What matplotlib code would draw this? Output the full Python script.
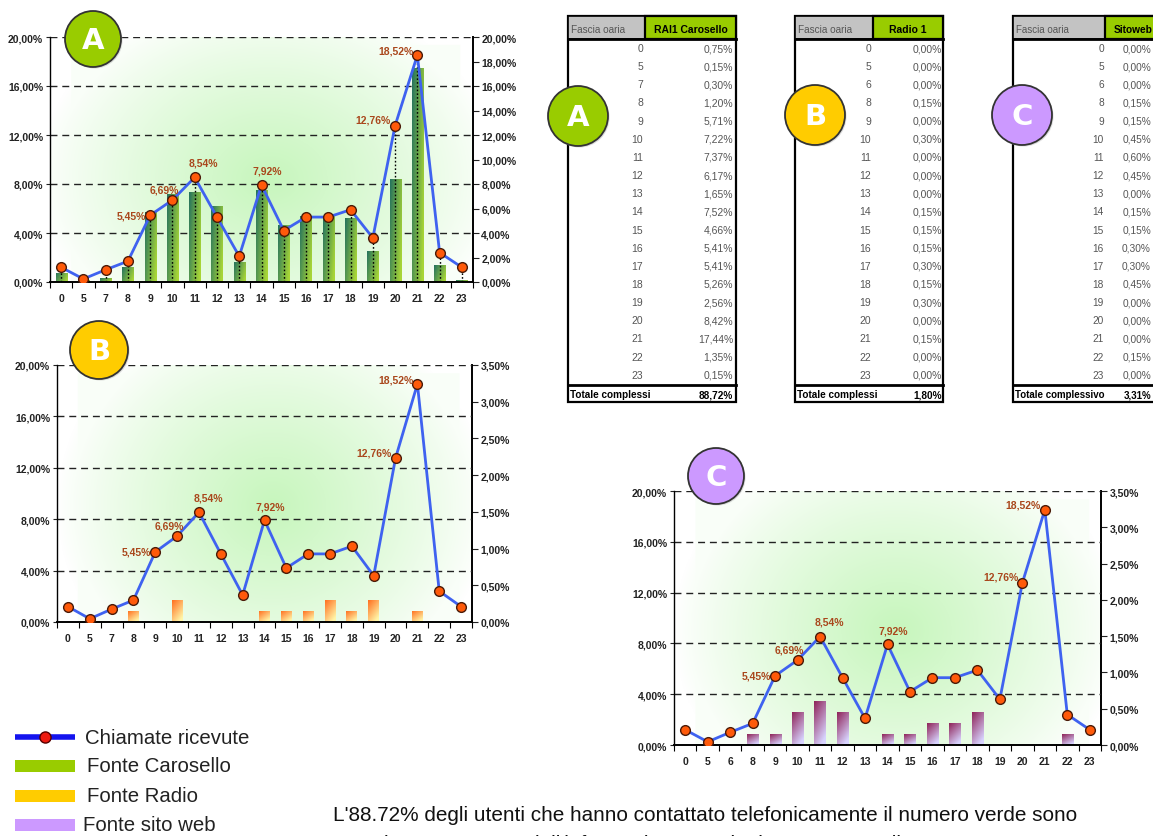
import numpy as np
import matplotlib
matplotlib.use('Agg')
import matplotlib.pyplot as plt
from matplotlib.patches import Circle, Rectangle
from matplotlib import font_manager

# ---------------- data ----------------
hours_ab = ['0', '5', '7', '8', '9', '10', '11', '12', '13', '14', '15', '16',
            '17', '18', '19', '20', '21', '22', '23']
hours_c = ['0', '5', '6', '8', '9', '10', '11', '12', '13', '14', '15', '16',
           '17', '18', '19', '20', '21', '22', '23']
calls = [1.20, 0.25, 1.00, 1.70, 5.45, 6.69, 8.54, 5.30, 2.10, 7.92, 4.20,
         5.30, 5.30, 5.90, 3.60, 12.76, 18.52, 2.40, 1.20]
carosello = [0.75, 0.15, 0.30, 1.20, 5.71, 7.22, 7.37, 6.17, 1.65, 7.52, 4.66,
             5.41, 5.41, 5.26, 2.56, 8.42, 17.44, 1.35, 0.15]
radio = [0.00, 0.00, 0.00, 0.15, 0.00, 0.30, 0.00, 0.00, 0.00, 0.15, 0.15,
         0.15, 0.30, 0.15, 0.30, 0.00, 0.15, 0.00, 0.00]
web = [0.00, 0.00, 0.00, 0.15, 0.15, 0.45, 0.60, 0.45, 0.00, 0.15, 0.15,
       0.30, 0.30, 0.45, 0.00, 0.00, 0.00, 0.15, 0.00]
labelled = [4, 5, 6, 9, 15, 16]
table_headers = ['RAI1 Carosello', 'Radio 1', 'Sitoweb']
total_labels = ['Totale complessi', 'Totale complessi', 'Totale complessivo']
totals = [88.72, 1.80, 3.31]
legend_labels = ['Chiamate ricevute', 'Fonte Carosello', 'Fonte Radio', 'Fonte sito web']
bottom_text = ("L'88.72% degli utenti che hanno contattato telefonicamente il numero verde sono",
               "venuti a conoscenza dell'informazione tramite lo spot Carosello")

# ---------------- setup ----------------
W, H = 1153, 837
fig = plt.figure(figsize=(W / 100, H / 100), dpi=100)
names = {f.name for f in font_manager.fontManager.ttflist}
NARROW = 'Liberation Sans Narrow' if 'Liberation Sans Narrow' in names else 'Liberation Sans'
plt.rcParams['font.family'] = ['Liberation Sans', 'DejaVu Sans']

BLUE = '#3f62f0'
MFC = '#ff5a0a'
MEC = '#4a1a08'
LBL = '#a9471c'


def pct(v):
    return f"{v:.2f}".replace('.', ',') + '%'


def glow(cx, cy, rx, ry):
    nx, ny = 400, 250
    X, Y = np.meshgrid(np.linspace(0, 1, nx), np.linspace(1, 0, ny))
    d = np.sqrt(((X - cx) / rx) ** 2 + ((Y - cy) / ry) ** 2)
    f = np.clip(1 - d, 0, 1) ** 0.85
    rect = ((X > 0.05) & (X < 0.97) & (Y < 0.97)).astype(float)
    f = np.maximum(f, 0.10 * rect)
    green = np.array([0.78, 0.965, 0.74])
    img = np.ones((ny, nx, 3)) * (1 - f[..., None]) + green * f[..., None]
    return img


def bar_grad(c1, c2, wu, wv):
    n = 60
    U, V = np.meshgrid(np.linspace(0, 1, n), np.linspace(0, 1, n))
    t = np.clip(wu * U + wv * V, 0, 1)
    c1 = np.array(matplotlib.colors.to_rgb(c1))
    c2 = np.array(matplotlib.colors.to_rgb(c2))
    return c1 * (1 - t[..., None]) + c2 * t[..., None]


label_offsets = {4: (-4, 0, 'right', 'center'), 5: (-8, 11, 'center', 'center'),
                 6: (9, 15, 'center', 'center'), 9: (6, 14, 'center', 'center'),
                 15: (-4, 6, 'right', 'center'), 16: (-4, 5, 'right', 'center')}


def make_chart(px, xlabels, right_max, right_step, bars, bars_on_right, grad, drop, gl):
    l, t, r, b = px
    ax = fig.add_axes([l / W, 1 - b / H, (r - l) / W, (b - t) / H])
    ax2 = ax.twinx()
    ax.set_zorder(ax2.get_zorder() + 1)
    ax.patch.set_visible(False)
    n = len(xlabels)
    x = np.arange(n)
    ax2.imshow(glow(*gl), extent=[0, 1, 0, 1], transform=ax2.transAxes,
               aspect='auto', zorder=0, interpolation='bilinear')
    target = ax2 if bars_on_right else ax
    bc = target.bar(x, bars, width=0.5, color='none', linewidth=0, zorder=2)
    for p in bc.patches:
        h = p.get_height()
        if h <= 0:
            continue
        x0, w = p.get_x(), p.get_width()
        im = target.imshow(grad, extent=[x0, x0 + w, 0, h], aspect='auto',
                           zorder=2, interpolation='bilinear')
        im.set_clip_path(p)
    ax.set_xlim(-0.5, n - 0.5)
    ax.set_ylim(0, 20)
    ax2.set_ylim(0, right_max)
    for gy in [4, 8, 12, 16, 20]:
        ax.axhline(gy, color='#222222', lw=1.0, ls=(0, (5, 3.5)), zorder=1)
    if drop:
        ax.vlines(x, 0, calls, colors='black', linestyles=(0, (1.2, 1.5)), lw=1.0, zorder=2.5)
    ax.plot(x, calls, color=BLUE, lw=2, zorder=3, marker='o', ms=7,
            mfc=MFC, mec=MEC, mew=1.0)
    for i in labelled:
        dx, dy, ha, va = label_offsets[i]
        ax.annotate(pct(calls[i]), (x[i], calls[i]), xytext=(dx * 0.72, dy * 0.72),
                    textcoords='offset points', ha=ha, va=va, fontsize=7.5,
                    fontweight='bold', color=LBL, zorder=5)
    for a in (ax, ax2):
        a.spines['top'].set_visible(False)
    ax.spines['right'].set_visible(False)
    ax2.spines['left'].set_visible(False)
    ax2.spines['bottom'].set_visible(False)
    ax.spines['left'].set_linewidth(1.0)
    ax.spines['left'].set_linestyle((0, (1.5, 1)))
    ax.spines['bottom'].set_linewidth(1.4)
    ax2.spines['right'].set_linewidth(1.4)
    yt = list(range(0, 21, 4))
    ax.set_yticks(yt)
    ax.set_yticklabels([pct(v) for v in yt], fontweight='bold')
    ax.tick_params(axis='y', direction='out', length=3, width=0.8, labelsize=7.5,
                   pad=2, colors='#222222')
    rt = np.arange(0, right_max + 1e-9, right_step)
    ax2.set_yticks(rt)
    ax2.set_yticklabels([pct(v) for v in rt], fontweight='bold')
    ax2.tick_params(axis='y', direction='out', length=4, width=0.8, labelsize=7.5,
                    pad=2, colors='#222222')
    ax.set_xticks(x)
    ax.set_xticklabels(xlabels, fontweight='bold')
    ax.tick_params(axis='x', which='major', length=0, pad=8, labelsize=7.5, colors='#222222')
    ax.set_xticks(np.arange(-0.5, n, 1.0), minor=True)
    ax.tick_params(axis='x', which='minor', length=4, width=0.8, direction='out')
    return ax


grad_a = bar_grad('#23715f', '#a8d636', 0.75, 0.35)
grad_b = bar_grad('#ff6a1a', '#fff6a8', 0.45, 0.7)
grad_c = bar_grad('#8e2358', '#d8d4ff', 0.4, 0.75)

make_chart((50, 38, 473, 283), hours_ab, 20, 2, carosello, False, grad_a, True,
           (0.52, 0.42, 0.55, 0.75))
make_chart((57, 366, 472, 623), hours_ab, 3.5, 0.5, radio, True, grad_b, False,
           (0.52, 0.45, 0.52, 0.78))
make_chart((674, 492, 1101, 746), hours_c, 3.5, 0.5, web, True, grad_c, False,
           (0.52, 0.45, 0.52, 0.78))

# ---------------- overlay ----------------
ov = fig.add_axes([0, 0, 1, 1])
ov.set_xlim(0, W)
ov.set_ylim(H, 0)
ov.axis('off')
ov.patch.set_alpha(0)
ov.set_zorder(10)


def table(x0, x1, xs, hours, vals, header, tlabel, tval, lab_r, val_r, fam, fs):
    top, hb, tl, bot = 17, 40, 386, 403
    ov.add_patch(Rectangle((x0, top), x1 - x0, bot - top, fc='white', ec='black', lw=1.6, zorder=1))
    ov.add_patch(Rectangle((x0, top), xs - x0, hb - top, fc='#c3c3c3', ec='black', lw=1.2, zorder=2))
    ov.add_patch(Rectangle((xs, top), x1 - xs, hb - top, fc='#99cc00', ec='black', lw=1.6, zorder=2))
    ov.plot([x0, x1], [hb, hb], color='black', lw=2, zorder=3)
    ov.plot([x0, x1], [tl, tl], color='black', lw=2, zorder=3)
    ov.text(x0 + 3, (top + hb) / 2 + 1, 'Fascia oaria', fontsize=fs - 0.3, color='#555555',
            va='center', ha='left', family=fam, zorder=4)
    ov.text((xs + x1) / 2, (top + hb) / 2 + 1, header, fontsize=fs, color='black',
            fontweight='bold', va='center', ha='center', family=fam, zorder=4)
    for i, (hh, v) in enumerate(zip(hours, vals)):
        y = 49 + i * 18.15
        ov.text(lab_r, y, hh, fontsize=fs, color='#555555', ha='right', va='center',
                family=fam, zorder=4)
        ov.text(val_r, y, pct(v), fontsize=fs, color='#555555', ha='right', va='center',
                family=fam, zorder=4)
    ov.text(x0 + 2, (tl + bot) / 2 + 1, tlabel, fontsize=fs - 0.3, color='black', fontweight='bold',
            ha='left', va='center', family=fam, zorder=4)
    ov.text(val_r, (tl + bot) / 2 + 1, pct(tval), fontsize=fs - 0.3, color='black',
            fontweight='bold', ha='right', va='center', family=fam, zorder=4)


table(568, 736, 645, hours_ab, carosello, table_headers[0], total_labels[0], totals[0],
      643, 733, 'Liberation Sans', 7.5)
table(795, 943, 873, hours_c, radio, table_headers[1], total_labels[1], totals[1],
      871, 942, NARROW, 7.5)
table(1013, 1162, 1105, hours_c, web, table_headers[2], total_labels[2], totals[2],
      1104, 1151, NARROW, 7.3)


def badge(cx, cy, r, color, letter):
    ov.add_patch(Circle((cx + 1.5, cy + 1.5), r, fc='#bbbbbb', ec='none', alpha=0.5, zorder=19))
    ov.add_patch(Circle((cx, cy), r, fc=color, ec='#333333', lw=1.3, zorder=20))
    ov.text(cx, cy + 1, letter, color='white', fontsize=21, fontweight='bold',
            ha='center', va='center', zorder=21, family='DejaVu Sans')


badge(93, 40, 28, '#99cc00', 'A')
badge(99, 351, 29, '#ffcc00', 'B')
badge(716, 477, 28, '#cc99ff', 'C')
badge(578, 117, 30, '#99cc00', 'A')
badge(815, 116, 30, '#ffcc00', 'B')
badge(1022, 116, 30, '#cc99ff', 'C')

# legend
ov.plot([15, 75], [738, 738], color='#1414ee', lw=4, solid_capstyle='butt', zorder=5)
ov.plot([45], [738], marker='o', ms=8, mfc='#ee1a10', mec='#550000', mew=1, zorder=6)
for yy, col in zip([767, 797, 826], ['#99cc00', '#ffcc00', '#cc99ff']):
    ov.add_patch(Rectangle((15, yy - 6), 60, 12, fc=col, ec='none', zorder=5))

renderer = fig.canvas.get_renderer()


def fit(txt, width):
    bb = txt.get_window_extent(renderer)
    txt.set_fontsize(txt.get_fontsize() * width / bb.width)


leg_texts = []
for yy, xx, s in zip([738, 767, 797, 826], [85, 87, 87, 83], legend_labels):
    leg_texts.append(ov.text(xx, yy, s, fontsize=14, color='#222222', ha='left',
                             va='center', family=NARROW, zorder=5))
fit(leg_texts[0], 165)
for t in leg_texts[1:]:
    t.set_fontsize(leg_texts[0].get_fontsize())

bt = ov.text(333, 816, bottom_text[0], fontsize=14, color='#111111', ha='left', va='center',
             family=NARROW, zorder=5)
fit(bt, 749)
ov.text(333, 835, bottom_text[1], fontsize=bt.get_fontsize(), color='#111111', ha='left',
        va='top', family=NARROW, zorder=5)

fig.savefig('out.png', dpi=100)
